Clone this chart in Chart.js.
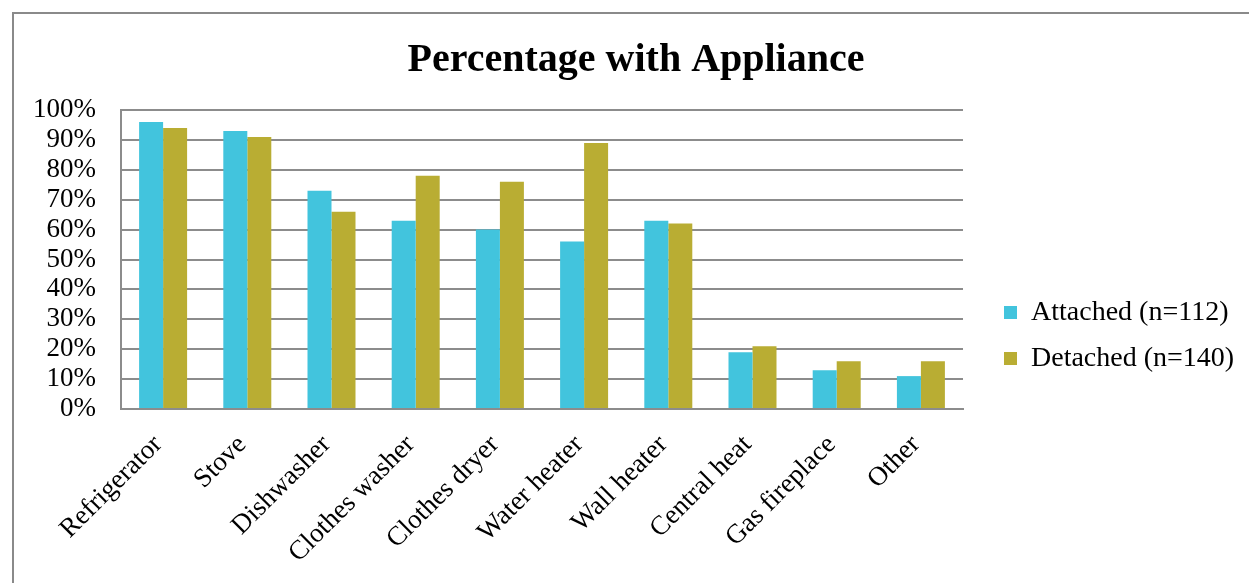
<!DOCTYPE html>
<html>
<head>
<meta charset="utf-8">
<script src="https://cdn.jsdelivr.net/npm/chart.js@4"></script>
<style>
  html, body { margin: 0; padding: 0; background: #fff; }
  #wrap { position: relative; width: 1249px; height: 583px; overflow: hidden; }
  #frame { position: absolute; left: 12px; top: 12px; width: 1300px; height: 700px;
           border-top: 2px solid #8a8a8a; border-left: 2px solid #8a8a8a; }
  canvas { position: absolute; left: 0; top: 0; }
</style>
</head>
<body>
<div id="wrap">
  <div id="frame"></div>
  <canvas id="grafico" width="1249" height="583"></canvas>
</div>
<script>
// Datos
const categorias = ['Refrigerator', 'Stove', 'Dishwasher', 'Clothes washer', 'Clothes dryer',
    'Water heater', 'Wall heater', 'Central heat', 'Gas fireplace', 'Other'];
const adosadas = [96, 93, 73, 63, 60, 56, 63, 19, 13, 11];
const separadas = [94, 91, 66, 78, 76, 89, 62, 21, 16, 16];
const etiquetaAdosadas = 'Attached (n=112)';
const etiquetaSeparadas = 'Detached (n=140)';
const titulo = 'Percentage with Appliance';

const fuente = "'Liberation Serif', serif";
const gris = '#8c8c8c';

// Ancho fijo de la leyenda y desplazamiento para que caiga donde en el original
const anchoLeyenda = 1249 - 963;
const desplazamientoLeyenda = { x: 23, y: 37 };

const ajusteLeyenda = {
    id: 'ajusteLeyenda',
    beforeLayout(chart) {
        const leyenda = chart.legend;
        if (leyenda && !leyenda._parcheada) {
            const fitOriginal = leyenda.fit.bind(leyenda);
            leyenda.fit = function () {
                fitOriginal();
                this.width = anchoLeyenda;
            };
            leyenda._parcheada = true;
        }
    },
    afterLayout(chart) {
        const leyenda = chart.legend;
        if (!leyenda) return;
        leyenda.left += desplazamientoLeyenda.x;
        leyenda.right += desplazamientoLeyenda.x;
        leyenda.top += desplazamientoLeyenda.y;
        leyenda.bottom += desplazamientoLeyenda.y;
    }
};

const ctx = document.getElementById('grafico').getContext('2d');
window.grafico = new Chart(ctx, {
    type: 'bar',
    data: {
        labels: categorias,
        datasets: [
            {
                label: etiquetaAdosadas,
                data: adosadas,
                backgroundColor: '#42c4dd',
                borderWidth: 0
            },
            {
                label: etiquetaSeparadas,
                data: separadas,
                backgroundColor: '#b9ad33',
                borderWidth: 0
            }
        ]
    },
    plugins: [ajusteLeyenda],
    options: {
        responsive: false,
        animation: false,
        layout: { padding: { left: 23, right: 0, top: 14, bottom: 0 } },
        datasets: { bar: { categoryPercentage: 0.57, barPercentage: 1 } },
        scales: {
            x: {
                grid: { display: false, drawTicks: false },
                border: { display: true, color: gris, width: 2 },
                ticks: {
                    color: '#000',
                    font: { family: fuente, size: 27 },
                    minRotation: 45, maxRotation: 45,
                    autoSkip: false,
                    padding: 20,
                    labelOffset: -5
                },
                afterFit: s => { s.height = 583 - 409; }
            },
            y: {
                min: 0, max: 100,
                grid: { color: gris, lineWidth: 2, drawTicks: false },
                border: { display: true, color: gris, width: 2 },
                ticks: {
                    stepSize: 10,
                    autoSkip: false,
                    color: '#000',
                    font: { family: fuente, size: 27 },
                    padding: 25,
                    callback: v => v + '%'
                },
                afterFit: s => { s.width = 121 - 23; }
            }
        },
        plugins: {
            title: {
                display: true,
                text: titulo,
                color: '#000',
                font: { family: fuente, size: 40, weight: 'bold' },
                padding: { top: 23, bottom: 25 }
            },
            legend: {
                position: 'right',
                labels: {
                    color: '#000',
                    font: { family: fuente, size: 28 },
                    boxWidth: 13,
                    boxHeight: 13,
                    padding: 18
                }
            },
            tooltip: { enabled: false }
        }
    }
});
</script>
</body>
</html>
